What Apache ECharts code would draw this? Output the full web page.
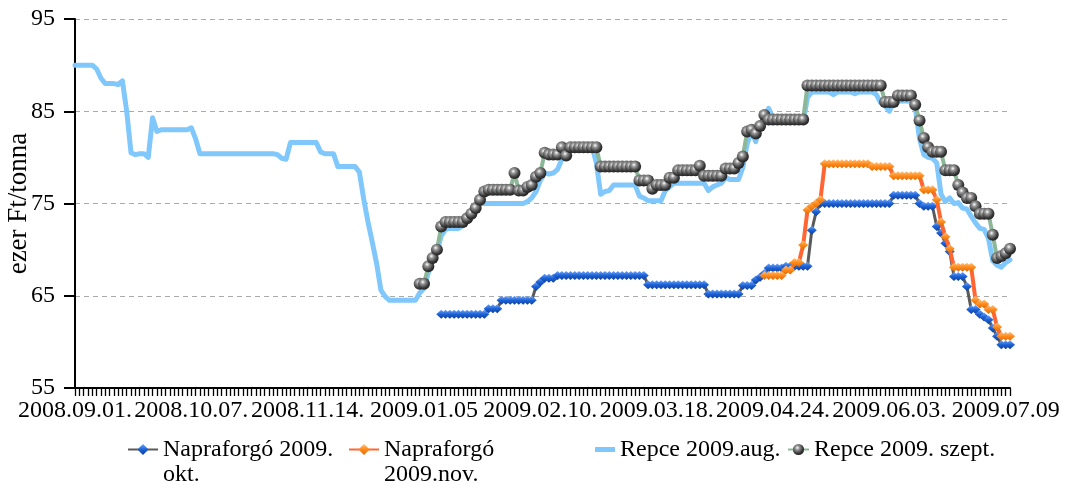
<!DOCTYPE html>
<html>
<head>
<meta charset="utf-8">
<title>Repce és napraforgó határidős árak</title>
<script src="https://cdn.jsdelivr.net/npm/echarts@6.0.0/dist/echarts.min.js"></script>
<style>
  html, body { margin: 0; padding: 0; background: #fff; }
  #chart { width: 1065px; height: 489px; }
</style>
</head>
<body>
<div id="chart"></div>
<script>
// x tengely: kereskedési napok, minden 27. napnál felirat
const dayCount = 218;
const labelEvery = 27;
const tickLabels = ['2008.09.01.', '2008.10.07.', '2008.11.14.', '2009.01.05', '2009.02.10.',
  '2009.03.18.', '2009.04.24.', '2009.06.03.', '2009.07.09'];

const seriesNames = ['Napraforgó 2009. okt.', 'Napraforgó 2009.nov.', 'Repce 2009.aug.', 'Repce 2009. szept.'];
// jelmagyarázat sorai (az első sor a jel mellé kerül)
const legendLines = [
  ['Napraforgó 2009.', 'okt.'],
  ['Napraforgó', '2009.nov.'],
  ['Repce 2009.aug.', ' '],
  ['Repce 2009. szept.', ' ']
];

// Repce 2009.aug. (0. naptól)
const repceAug = [
  90.0, 90.0, 90.0, 90.0, 90.0, 89.6, 88.6, 88.0, 88.0, 88.0,
  87.9, 88.3, 85.0, 80.5, 80.3, 80.4, 80.4, 80.0, 84.3, 82.8,
  83.0, 83.0, 83.0, 83.0, 83.0, 83.0, 83.0, 83.2, 82.0, 80.4,
  80.4, 80.4, 80.4, 80.4, 80.4, 80.4, 80.4, 80.4, 80.4, 80.4,
  80.4, 80.4, 80.4, 80.4, 80.4, 80.4, 80.4, 80.3, 79.9, 79.8,
  81.6, 81.6, 81.6, 81.6, 81.6, 81.6, 81.6, 80.6, 80.4, 80.4,
  80.4, 79.0, 79.0, 79.0, 79.0, 79.0, 78.4, 75.5, 73.0, 70.8,
  68.5, 65.6, 64.9, 64.5, 64.5, 64.5, 64.5, 64.5, 64.5, 64.5,
  65.3, 65.8, 67.5, 68.8, 69.8, 71.5, 72.2, 72.3, 72.3, 72.3,
  72.6, 73.3, 74.2, 74.9, 75.0, 75.0, 75.0, 75.0, 75.0, 75.0,
  75.0, 75.0, 75.0, 75.0, 75.0, 75.2, 75.6, 76.3, 77.5, 78.3,
  78.2, 78.3, 78.7, 79.8, 81.2, 81.2, 81.2, 81.2, 81.2, 81.2,
  81.2, 79.4, 76.0, 76.3, 76.4, 77.0, 77.0, 77.0, 77.0, 77.0,
  77.0, 75.8, 75.6, 75.3, 75.3, 75.3, 75.3, 76.4, 76.8, 77.2,
  77.2, 77.2, 77.2, 77.2, 77.2, 77.2, 77.2, 76.4, 76.8, 77.0,
  77.2, 77.8, 77.6, 77.6, 77.6, 78.9, 81.5, 82.8, 81.7, 83.5,
  84.4, 85.3, 84.2, 83.8, 83.8, 83.8, 83.8, 83.8, 83.8, 83.8,
  86.5, 87.1, 87.1, 87.1, 87.1, 87.1, 86.8, 87.1, 87.1, 87.1,
  87.1, 86.9, 87.1, 87.1, 87.1, 87.1, 86.8, 85.9, 85.6, 85.0,
  86.0, 86.1, 86.1, 86.1, 86.1, 85.5, 82.0, 80.3, 80.0, 79.9,
  79.4, 76.0, 75.2, 75.6, 75.0, 75.1, 74.5, 74.4, 73.6, 72.9,
  72.3, 72.2, 71.2, 68.8, 68.3, 68.1, 68.6, 68.9
];

// Repce 2009. szept. (80. naptól)
const repceSzeptStart = 80;
const repceSzept = [
  66.3, 66.3, 68.2, 69.1, 70.0, 72.5, 73.0, 73.0, 73.0, 73.0,
  73.0, 73.4, 73.9, 74.5, 75.4, 76.3, 76.5, 76.5, 76.5, 76.5,
  76.5, 76.5, 78.3, 76.4, 76.4, 76.8, 77.0, 77.9, 78.3, 80.5,
  80.3, 80.3, 80.3, 81.1, 80.2, 81.1, 81.1, 81.1, 81.1, 81.1,
  81.1, 81.1, 79.0, 79.0, 79.0, 79.0, 79.0, 79.0, 79.0, 79.0,
  79.0, 77.5, 77.5, 77.5, 76.6, 77.0, 77.0, 77.0, 77.8, 77.8,
  78.6, 78.6, 78.6, 78.6, 78.6, 79.1, 78.0, 78.0, 78.0, 78.0,
  78.0, 78.8, 78.8, 78.8, 79.4, 80.1, 82.8, 83.0, 82.6, 83.4,
  84.6, 84.1, 84.1, 84.1, 84.1, 84.1, 84.1, 84.1, 84.1, 84.1,
  87.8, 87.8, 87.8, 87.8, 87.8, 87.8, 87.8, 87.8, 87.8, 87.8,
  87.8, 87.8, 87.8, 87.8, 87.8, 87.8, 87.8, 87.8, 86.0, 86.0,
  86.0, 86.7, 86.7, 86.7, 86.7, 85.7, 84.0, 82.1, 81.1, 80.6,
  80.6, 80.6, 78.6, 78.6, 78.6, 77.0, 76.2, 75.6, 75.6, 74.7,
  73.9, 73.9, 73.9, 71.6, 69.1, 69.3, 69.6, 70.1
];

// Napraforgó 2009. okt. (85. naptól)
const naprOktStart = 85;
const naprOkt = [
  63.0, 63.0, 63.0, 63.0, 63.0,
  63.0, 63.0, 63.0, 63.0, 63.0, 63.0, 63.6, 63.6, 63.6, 64.5,
  64.5, 64.5, 64.5, 64.5, 64.5, 64.5, 64.5, 66.0, 66.5, 66.9,
  66.9, 66.9, 67.2, 67.2, 67.2, 67.2, 67.2, 67.2, 67.2, 67.2,
  67.2, 67.2, 67.2, 67.2, 67.2, 67.2, 67.2, 67.2, 67.2, 67.2,
  67.2, 67.2, 67.2, 66.2, 66.2, 66.2, 66.2, 66.2, 66.2, 66.2,
  66.2, 66.2, 66.2, 66.2, 66.2, 66.2, 66.2, 65.2, 65.2, 65.2,
  65.2, 65.2, 65.2, 65.2, 65.2, 66.1, 66.1, 66.1, 66.7, 67.0,
  67.4, 68.0, 68.0, 68.0, 68.0, 68.2, 68.2, 68.2, 68.2, 68.2,
  68.2, 72.1, 74.1, 75.0, 75.0, 75.0, 75.0, 75.0, 75.0, 75.0,
  75.0, 75.0, 75.0, 75.0, 75.0, 75.0, 75.0, 75.0, 75.0, 75.0,
  75.9, 75.9, 75.9, 75.9, 75.9, 75.9, 75.0, 74.7, 74.7, 74.7,
  72.5, 71.8, 70.7, 69.8, 67.1, 67.1, 67.1, 66.0, 63.5, 63.5,
  63.0, 62.7, 62.4, 61.5, 60.6, 59.7, 59.7, 59.7
];

// Napraforgó 2009.nov. (160. naptól)
const naprNovStart = 160;
const naprNov = [
  67.2, 67.2, 67.2, 67.2, 67.2, 67.8, 67.8, 68.6, 68.6, 70.5,
  74.3, 74.7, 75.0, 75.4, 79.3, 79.3, 79.3, 79.3, 79.3, 79.3,
  79.3, 79.3, 79.3, 79.3, 79.3, 79.0, 79.0, 79.0, 79.0, 79.0,
  78.0, 78.0, 78.0, 78.0, 78.0, 78.0, 78.0, 76.5, 76.5, 76.5,
  75.4, 73.0, 71.4, 70.1, 68.1, 68.1, 68.1, 68.1, 68.1, 64.5,
  64.1, 64.1, 63.5, 63.5, 61.6, 60.6, 60.6, 60.6
];

const FONT = '"Liberation Serif", "DejaVu Serif", serif';
const days = Array.from({ length: dayCount }, (_, i) => String(i));
const pad = (start, vals) => new Array(start).fill(null).concat(vals);

const chart = echarts.init(document.getElementById('chart'));

// jelmagyarázat: négy külön blokk, hogy a helyük pontosan beállítható legyen
const legendLefts = [127, 348, 595, 787];
const legendIconW = [30, 30, 20, 21];

const option = {
  animation: false,
  backgroundColor: '#fff',
  grid: { left: 75, right: 55, top: 19, bottom: 101, outerBoundsMode: 'none' },
  legend: seriesNames.map((name, k) => {
    const isLine = k === 2;
    return {
      data: [isLine ? { name: name, icon: 'rect' } : name],
      left: legendLefts[k],
      top: 412,
      padding: 0,
      itemWidth: legendIconW[k],
      itemHeight: isLine ? 5 : 14,
      itemGap: 0,
      selectedMode: false,
      // üres első sor, így a szöveg első sora a jel magasságában van
      formatter: () => ' \n' + legendLines[k].join('\n'),
      textStyle: { fontFamily: FONT, fontSize: 24, color: '#000', lineHeight: 25 }
    };
  }),
  xAxis: {
    type: 'category',
    data: days,
    boundaryGap: false,
    axisLine: { lineStyle: { color: '#000', width: 2 } },
    axisTick: { show: true, interval: 0, length: 8, lineStyle: { color: '#000', width: 1.3 } },
    axisLabel: {
      interval: labelEvery - 1,
      margin: 11,
      fontFamily: FONT,
      fontSize: 24,
      color: '#000',
      formatter: (v, idx) => tickLabels[Math.round(idx / labelEvery)] || ''
    },
    splitLine: { show: false }
  },
  yAxis: {
    type: 'value',
    min: 55,
    max: 95,
    interval: 10,
    name: 'ezer Ft/tonna',
    nameLocation: 'middle',
    nameGap: 43,
    nameMoveOverlap: false,
    nameTextStyle: { fontFamily: FONT, fontSize: 27, color: '#000' },
    axisLine: { show: true, lineStyle: { color: '#000', width: 2 } },
    axisTick: { show: true, length: 11, lineStyle: { color: '#000', width: 2 } },
    axisLabel: { margin: 20, fontFamily: FONT, fontSize: 24, color: '#000' },
    splitLine: { show: true, lineStyle: { color: '#aaa', width: 1, type: [5, 4] } }
  },
  series: [
    {
      name: seriesNames[2],
      type: 'line',
      data: repceAug,
      symbol: 'none',
      z: 2,
      lineStyle: { color: '#80c8fc', width: 5, join: 'round', cap: 'round' },
      itemStyle: { color: '#80c8fc' }
    },
    {
      name: seriesNames[0],
      type: 'line',
      data: pad(naprOktStart, naprOkt),
      symbol: 'diamond',
      symbolSize: [10, 9],
      showAllSymbol: true,
      z: 3,
      lineStyle: { color: '#5a5a5a', width: 3 },
      itemStyle: {
        color: new echarts.graphic.LinearGradient(0, 0, 0, 1, [
          { offset: 0, color: '#6fa8ff' },
          { offset: 0.5, color: '#1d62d6' },
          { offset: 1, color: '#0f3f9c' }
        ]),
        borderWidth: 0
      }
    },
    {
      name: seriesNames[1],
      type: 'line',
      data: pad(naprNovStart, naprNov),
      symbol: 'diamond',
      symbolSize: [10, 9],
      showAllSymbol: true,
      z: 4,
      lineStyle: { color: '#ff6633', width: 4 },
      itemStyle: {
        color: new echarts.graphic.LinearGradient(0, 0, 0, 1, [
          { offset: 0, color: '#ffc27a' },
          { offset: 0.5, color: '#ff8a1c' },
          { offset: 1, color: '#e06a00' }
        ]),
        borderWidth: 0
      }
    },
    {
      name: seriesNames[3],
      type: 'line',
      data: pad(repceSzeptStart, repceSzept),
      symbol: 'circle',
      symbolSize: 12,
      showAllSymbol: true,
      z: 5,
      lineStyle: { color: '#8db898', width: 4 },
      itemStyle: {
        color: new echarts.graphic.RadialGradient(0.4, 0.35, 0.7, [
          { offset: 0, color: '#ffffff' },
          { offset: 0.25, color: '#9a9a9a' },
          { offset: 0.7, color: '#3a3a3a' },
          { offset: 1, color: '#1a1a1a' }
        ]),
        borderWidth: 0
      }
    }
  ]
};

chart.setOption(option);
</script>
</body>
</html>
